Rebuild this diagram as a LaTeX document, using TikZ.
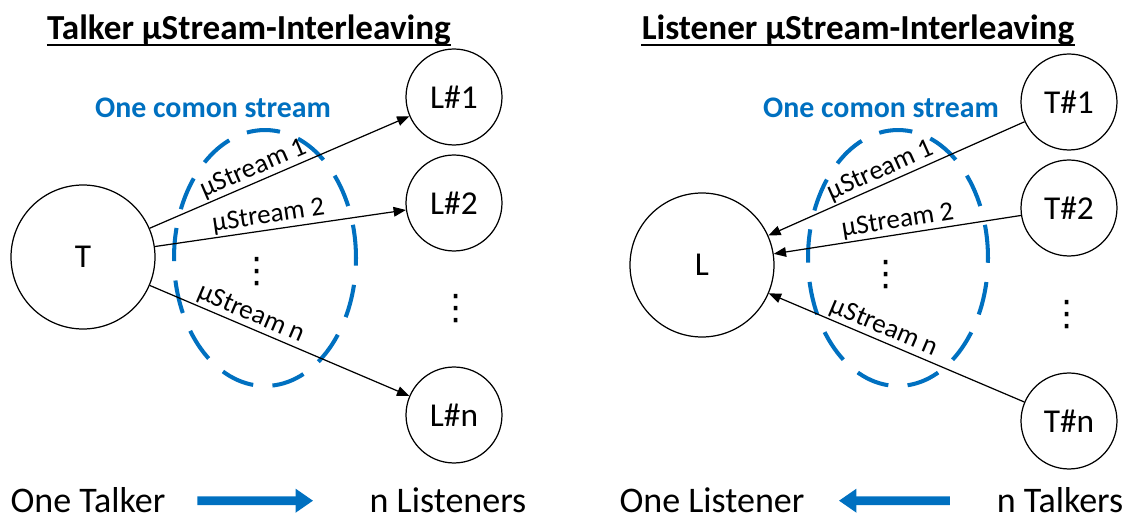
\documentclass[tikz,border=0pt]{standalone}
\usepackage{fontspec}
\setmainfont{Carlito}
\newfontfamily\symfont{DejaVu Sans}
\usetikzlibrary{
  arrows.meta,
  positioning
}
\definecolor{strm}{RGB}{0,112,192}

\begin{document}
\begin{tikzpicture}[
  x=0.02cm, y=-0.02cm,
  hub/.style={circle, draw, line width=0.7pt, minimum size=2.88cm, inner sep=0,
              font=\fontsize{19}{23}\selectfont},
  peer/.style={hub, minimum size=1.92cm},
  flow/.style={line width=0.7pt, -{Triangle[length=7pt,width=5.5pt]}},
  backflow/.style={line width=0.7pt, {Triangle[length=7pt,width=5.5pt]}-},
  lbl/.style={sloped, above, inner sep=1pt, font=\fontsize{15.4}{18}\selectfont},
  grp/.style={draw=strm, line width=2.3pt, dash pattern=on 19pt off 11pt},
  grptxt/.style={text=strm, font=\bfseries\fontsize{17}{20}\selectfont},
  ttl/.style={anchor=base, inner sep=0, font=\bfseries\fontsize{20}{24}\selectfont},
  foot/.style={anchor=base, inner sep=0, font=\fontsize{20.5}{24}\selectfont},
  bigarr/.style={draw=strm, line width=5pt, -{Triangle[length=10pt,width=13pt,fill=strm]}},
  vdot/.style={inner sep=0, font=\symfont\fontsize{20}{24}\selectfont}
]
\useasboundingbox (0,0) rectangle (1134,520);

% Titles
\node[ttl] (ttlA) at (249,40) {Talker µStream-Interleaving};
\node[ttl] (ttlB) at (858,40) {Listener µStream-Interleaving};
\foreach \t in {ttlA, ttlB} {
  \draw[line width=1.1pt] ([yshift=-2.6pt]\t.base west) -- ([yshift=-2.6pt]\t.base east);
}

% Talker side
\node[hub] (talker) at (83,257) {T};
\foreach \n/\y in {1/97, 2/203, n/415} {
  \node[peer] (lis\n) at (454,\y) {L\#\n};
}
\node[vdot] (dotsL) at (456,309) {⋮};
\draw[grp] (265,258) ellipse [x radius=1.82cm, y radius=2.56cm];
\node[grptxt] (comA) at (213,108) {One comon stream};
\foreach \n/\p in {1/0.42, 2/0.46, n/0.37} {
  \draw[flow] (talker) -- node[lbl, pos=\p] {µStream \n} (lis\n);
}
\node[vdot] (dotsA) at (257,272) {⋮};

% Listener side
\node[hub] (listener) at (702,265) {L};
\foreach \n/\y in {1/102, 2/208, n/421} {
  \node[peer] (tlk\n) at (1069,\y) {T\#\n};
}
\node[vdot] (dotsT) at (1067,315) {⋮};
\draw[grp] (898,258) ellipse [x radius=1.80cm, y radius=2.56cm];
\node[grptxt] (comB) at (881,108) {One comon stream};
\foreach \n/\p in {1/0.46, 2/0.51, n/0.43} {
  \draw[backflow] (listener) -- node[lbl, pos=\p] {µStream \n} (tlk\n);
}
\node[vdot] (dotsB) at (886,275) {⋮};

% Bottom line
\node[foot] (oneT) at (88,513) {One Talker};
\node[foot] (nL) at (448,513) {n Listeners};
\node[foot] (oneL) at (712,513) {One Listener};
\node[foot] (nT) at (1060,513) {n Talkers};
\draw[bigarr, shorten <=18pt, shorten >=32pt] (oneT) -- (nL);
\draw[bigarr, shorten <=26.5pt, shorten >=19.4pt] (nT) -- (oneL);

\end{tikzpicture}
\end{document}
